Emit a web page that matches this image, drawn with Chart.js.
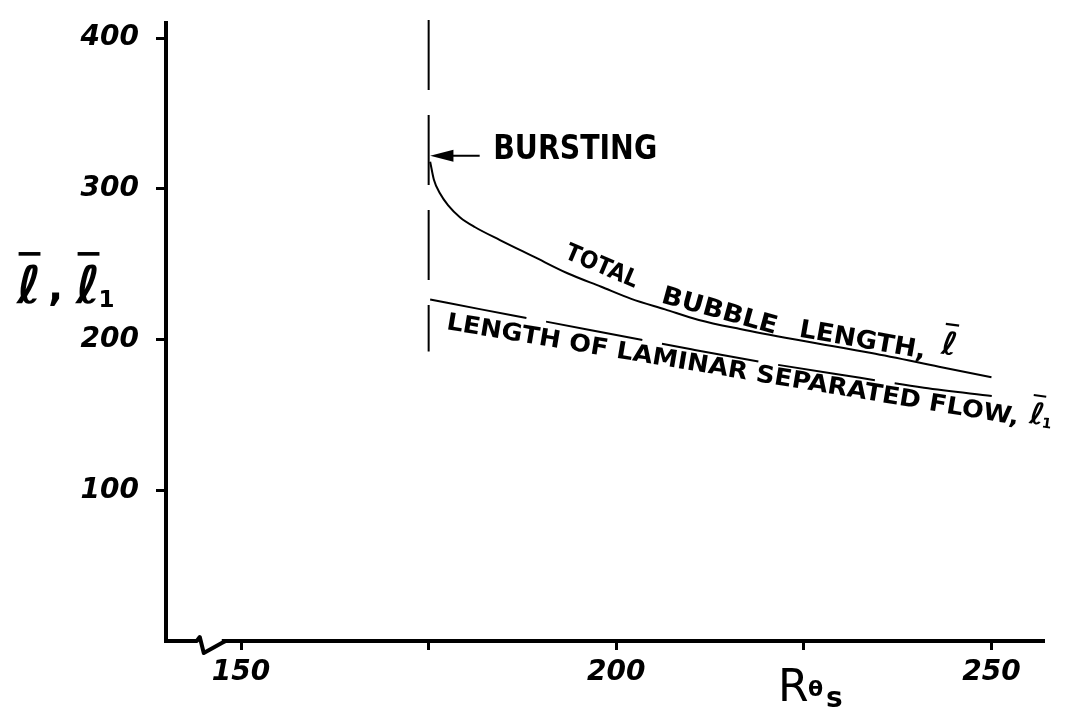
<!DOCTYPE html>
<html>
<head>
<meta charset="utf-8">
<script src="https://cdn.jsdelivr.net/npm/chart.js@4"></script>
<style>
  body { margin: 0; background: #fff; }
  canvas { display: block; }
</style>
</head>
<body>
<canvas id="chart" width="1071" height="721"></canvas>
<script>
// values
var totalRe  = [175.2, 175.7, 176.5, 177.6, 179.2, 181.2, 184.5, 189, 193.5, 198, 202, 206.5, 211, 216.5, 225, 234, 243, 250];
var totalLen = [318, 306, 297, 289, 281, 274.5, 266, 255, 244, 235, 227, 220, 213, 207, 199, 191, 182, 175];

var lamRe  = [175.2, 182, 190, 200, 210, 220, 232.5, 241, 250.2];
var lamLen = [226.5, 220, 212.5, 203, 193.5, 184.5, 174.6, 168, 162.4];

var burstRe = 175;
var burstLen = [412, 192];

var xTicks = [150, 175, 200, 225, 250];
var xTickLabels = ['150', '', '200', '', '250'];
var yTicks = [100, 200, 300, 400];
var yTickLabels = ['100', '200', '300', '400'];

function pts(xs, ys) {
    return xs.map(function (x, i) { return { x: x, y: ys[i] }; });
}

var FONT = "'DejaVu Sans'";

function fitText(ctx, text, x, y, w, angle, font) {
    ctx.save();
    ctx.translate(x, y);
    ctx.rotate(angle * Math.PI / 180);
    ctx.font = font;
    var m = ctx.measureText(text).width;
    ctx.scale(w / m, 1);
    ctx.textAlign = 'left';
    ctx.textBaseline = 'middle';
    ctx.fillText(text, 0, 0);
    ctx.restore();
}

// script l with a bar over it (and optional subscript)
function ellBar(ctx, x, y, size, angle, sub) {
    ctx.save();
    ctx.translate(x, y);
    ctx.rotate(angle * Math.PI / 180);
    ctx.font = 'bold ' + size + 'px ' + FONT;
    ctx.textAlign = 'center';
    ctx.textBaseline = 'alphabetic';
    ctx.fillText('\u2113', 0, 0);
    ctx.fillRect(-size * 0.2, -size * 0.98, size * 0.42, Math.max(2, size * 0.07));
    if (sub) {
        ctx.font = 'bold ' + Math.round(size * 0.45) + 'px ' + FONT;
        ctx.textAlign = 'left';
        ctx.fillText(sub, size * 0.2, size * 0.08);
    }
    ctx.restore();
}

var notes = {
    id: 'notes',
    afterDraw: function (chart) {
        var ctx = chart.ctx;
        var xs = chart.scales.x, ys = chart.scales.y;
        var X = function (v) { return xs.getPixelForValue(v); };
        var Y = function (v) { return ys.getPixelForValue(v); };
        ctx.save();
        ctx.fillStyle = '#000';
        ctx.strokeStyle = '#000';

        // axis break on the Re axis
        var bx = X(144.5), by = ys.bottom;
        ctx.fillStyle = '#fff';
        ctx.fillRect(bx - 6, by - 4, 28, 9);
        ctx.fillStyle = '#000';
        ctx.lineWidth = 4;
        ctx.lineJoin = 'round';
        ctx.beginPath();
        ctx.moveTo(bx - 8, by);
        ctx.lineTo(bx - 3, by);
        ctx.lineTo(bx, by - 4);
        ctx.lineTo(bx + 4, by + 12);
        ctx.lineTo(bx + 22, by + 2);
        ctx.lineTo(bx + 26, by);
        ctx.stroke();

        // bursting arrow + label
        var ay = Y(322);
        ctx.lineWidth = 2;
        ctx.beginPath();
        ctx.moveTo(X(181.8), ay);
        ctx.lineTo(X(177.5), ay);
        ctx.stroke();
        ctx.beginPath();
        ctx.moveTo(X(175.2), ay);
        ctx.lineTo(X(178.3), ay - 6);
        ctx.lineTo(X(178.3), ay + 6);
        ctx.closePath();
        ctx.fill();
        fitText(ctx, 'BURSTING', X(183.6), Y(325.7), 164, 0, 'bold 34px ' + FONT);

        // words along the total bubble length curve
        fitText(ctx, 'TOTAL', X(193.3), Y(258), 77, 23, 'bold 24px ' + FONT);
        fitText(ctx, 'BUBBLE', X(206.1), Y(228.9), 119, 15.5, 'bold 25px ' + FONT);
        fitText(ctx, 'LENGTH,', X(224.4), Y(206.3), 128, 10, 'bold 25px ' + FONT);
        ellBar(ctx, X(244.2), Y(190), 32, 8);

        // label under the laminar separated flow line
        fitText(ctx, 'LENGTH OF LAMINAR SEPARATED FLOW,', X(177.4), Y(211), 580, 9.5, 'bold 24px ' + FONT);
        ellBar(ctx, X(255.9), Y(144), 30, 8, '1');

        // y axis title
        ellBar(ctx, 29, 303, 52, 0);
        ctx.font = 'bold 40px ' + FONT;
        ctx.textAlign = 'left';
        ctx.fillText(',', 48, 300);
        ellBar(ctx, 88, 303, 52, 0, '1');

        // x axis title  R theta s
        ctx.textAlign = 'left';
        ctx.textBaseline = 'alphabetic';
        ctx.font = '44px ' + FONT;
        ctx.fillText('R', 778, 701);
        ctx.font = 'bold 22px ' + FONT;
        ctx.fillText('\u03b8', 808, 696);
        ctx.font = 'bold 28px ' + FONT;
        ctx.fillText('s', 826, 707);

        // figure caption, cut off by the bottom edge
        fitText(ctx, 'FIG. 8', 167, 743, 122, 0, 'bold 40px ' + FONT);
        ctx.restore();
    }
};

var ctx = document.getElementById('chart').getContext('2d');
var chart = new Chart(ctx, {
    type: 'scatter',
    data: {
        datasets: [{
            label: 'Total bubble length',
            data: pts(totalRe, totalLen),
            showLine: true,
            borderColor: '#000',
            borderWidth: 2,
            pointRadius: 0,
            cubicInterpolationMode: 'monotone'
        }, {
            label: 'Length of laminar separated flow',
            data: pts(lamRe, lamLen),
            showLine: true,
            borderColor: '#000',
            borderWidth: 2,
            borderDash: [98, 20],
            pointRadius: 0,
            cubicInterpolationMode: 'monotone'
        }, {
            label: 'Bursting',
            data: pts([burstRe, burstRe], burstLen),
            showLine: true,
            borderColor: '#000',
            borderWidth: 2,
            borderDash: [70, 25],
            pointRadius: 0,
            clip: false
        }]
    },
    options: {
        responsive: false,
        animation: false,
        layout: { padding: { left: 0, top: 23, right: 27, bottom: 0 } },
        plugins: {
            legend: { display: false },
            tooltip: { enabled: false }
        },
        scales: {
            x: {
                type: 'linear',
                min: 140,
                max: 257,
                afterFit: function (s) {
                    s.height = 80;
                    s.paddingLeft = 0;
                    s.paddingRight = 0;
                },
                afterBuildTicks: function (s) {
                    s.ticks = xTicks.map(function (v) { return { value: v }; });
                },
                border: { color: '#000', width: 4 },
                grid: { drawOnChartArea: false, tickLength: 9, tickWidth: 3, tickColor: '#000' },
                ticks: {
                    color: '#000',
                    padding: 6,
                    font: { family: FONT, size: 28, weight: 'bold', style: 'italic' },
                    callback: function (v, i) { return xTickLabels[i]; }
                }
            },
            y: {
                type: 'linear',
                min: 0,
                max: 410,
                afterFit: function (s) {
                    s.width = 166;
                    s.paddingTop = 0;
                    s.paddingBottom = 0;
                },
                afterBuildTicks: function (s) {
                    s.ticks = yTicks.map(function (v) { return { value: v }; });
                },
                border: { color: '#000', width: 4 },
                grid: { drawOnChartArea: false, tickLength: 10, tickWidth: 3, tickColor: '#000' },
                ticks: {
                    color: '#000',
                    padding: 17,
                    font: { family: FONT, size: 28, weight: 'bold', style: 'italic' },
                    callback: function (v, i) { return yTickLabels[i]; }
                }
            }
        }
    },
    plugins: [notes]
});
</script>
</body>
</html>
